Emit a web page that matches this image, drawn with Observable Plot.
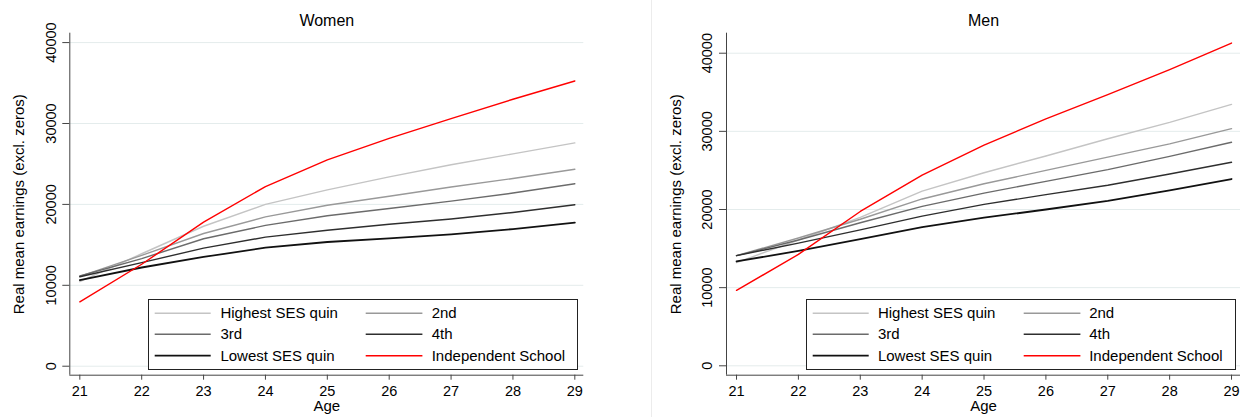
<!DOCTYPE html>
<html>
<head>
<meta charset="utf-8">
<script src="https://cdn.jsdelivr.net/npm/d3@7"></script>
<script src="https://cdn.jsdelivr.net/npm/@observablehq/plot@0.6"></script>
<style>
  html, body { margin: 0; padding: 0; background: #fff; }
  #wrap { position: relative; width: 1242px; height: 417px; background: #fff; overflow: hidden;
          font-family: "Liberation Sans", Arial, sans-serif; color: #000; }
  .panel { position: absolute; top: 0; }
  .sep { position: absolute; left: 651px; top: 0; width: 1px; height: 417px; background: #ececec; }
  .legend { position: absolute; top: 299px; height: 69px; width: 428px; border: 1px solid #222; background: #fff; box-sizing: content-box; }
  .legend .item { position: absolute; font-size: 15px; line-height: 15px; white-space: nowrap; }
  .legend svg { position: absolute; overflow: visible; }
</style>
</head>
<body>
<div id="wrap"></div>
<script>
// ---------- data ----------
const ages = [21, 22, 23, 24, 25, 26, 27, 28, 29];
const seriesNames = ["Highest SES quin", "2nd", "3rd", "4th", "Lowest SES quin", "Independent School"];
const seriesColors = ["#c4c4c4", "#999999", "#6b6b6b", "#2e2e2e", "#111111", "#ff0000"];
const seriesWidths = [1.4, 1.4, 1.4, 1.4, 1.8, 1.4];

const womenHighest = [10450, 13900, 17300, 20000, 21800, 23400, 24900, 26250, 27600];
const women2nd     = [11100, 13700, 16400, 18450, 19900, 21000, 22150, 23200, 24350];
const women3rd     = [11150, 13300, 15750, 17400, 18600, 19500, 20400, 21400, 22550];
const women4th     = [11050, 12800, 14600, 15950, 16800, 17550, 18200, 19000, 19950];
const womenLowest  = [10650, 12200, 13500, 14650, 15350, 15800, 16300, 16950, 17750];
const womenIndep   = [7950, 12600, 17800, 22200, 25500, 28150, 30600, 33000, 35250];

const menHighest = [13200, 16100, 19000, 22350, 24700, 26850, 29050, 31150, 33450];
const men2nd     = [14100, 16350, 18750, 21350, 23300, 25000, 26700, 28400, 30350];
const men3rd     = [14100, 16100, 18300, 20400, 22100, 23600, 25100, 26800, 28600];
const men4th     = [14100, 15700, 17400, 19150, 20650, 21900, 23100, 24550, 26050];
const menLowest  = [13350, 14700, 16200, 17750, 18950, 20000, 21100, 22450, 23900];
const menIndep   = [9650, 14250, 19750, 24400, 28250, 31600, 34700, 37900, 41300];

const yTicks = [0, 10000, 20000, 30000, 40000];
const xTicks = ages;
const yLabel = "Real mean earnings (excl. zeros)";
const xLabel = "Age";

// ---------- build ----------
const FONT = "'Liberation Sans', Arial, sans-serif";
const GRID = "#e4ecec";
const AXIS = "#444";

function toRows(seriesList) {
  const rows = [];
  seriesList.forEach((vals, s) => vals.forEach((v, i) => rows.push({series: seriesNames[s], age: ages[i], value: v})));
  return rows;
}

function panel({title, series, width, marginLeft, marginRight, yDomain}) {
  const rows = toRows(series);
  const xDomain = [20.838, 29.145];
  const lines = seriesNames.map((name, s) =>
    Plot.line(rows.filter(d => d.series === name), {
      x: "age", y: "value", stroke: seriesColors[s], strokeWidth: seriesWidths[s], strokeLinejoin: "round"
    }));
  return Plot.plot({
    width, height: 417,
    marginLeft, marginRight, marginTop: 32.7, marginBottom: 42.3,
    x: {domain: xDomain},
    y: {domain: yDomain},
    style: {fontFamily: FONT, fontSize: "14.5px", color: "#000", background: "transparent", overflow: "visible"},
    marks: [
      Plot.gridY(yTicks, {stroke: GRID, strokeOpacity: 1, strokeWidth: 1}),
      Plot.ruleX([xDomain[0]], {stroke: AXIS, strokeWidth: 1}),
      Plot.ruleY([yDomain[0]], {stroke: AXIS, strokeWidth: 1}),
      Plot.axisY(yTicks, {tickRotate: -90, tickSize: 7, tickPadding: 7.3, tickFormat: d => String(d), label: null, stroke: AXIS, fontSize: 14.5}),
      Plot.axisX(xTicks, {tickSize: 5, tickPadding: 5.3, tickFormat: d => String(d), label: null, stroke: AXIS, fontSize: 14.5}),
      ...lines,
      Plot.text([title], {text: d => d, frameAnchor: "top", dy: -12.8, fontSize: 16, lineAnchor: "middle", textAnchor: "middle"}),
      Plot.text([xLabel], {text: d => d, frameAnchor: "bottom", dy: 31.4, fontSize: 15, lineAnchor: "middle", textAnchor: "middle"}),
      Plot.text([yLabel], {text: d => d, frameAnchor: "left", dx: -50.8, rotate: -90, fontSize: 15, lineAnchor: "middle", textAnchor: "middle"})
    ]
  });
}

function legend(left) {
  const box = document.createElement("div");
  box.className = "legend";
  box.style.left = left + "px";
  const lineX = [[6.7, 62.7], [217.7, 274.4]];
  const textX = [72.4, 283.7];
  const rowY = [14.3, 35.3, 56.7];
  seriesNames.forEach((name, s) => {
    const col = s % 2, row = Math.floor(s / 2);
    const svg = document.createElementNS("http://www.w3.org/2000/svg", "svg");
    svg.setAttribute("width", 1); svg.setAttribute("height", 1);
    svg.style.left = "0px"; svg.style.top = "0px";
    const ln = document.createElementNS("http://www.w3.org/2000/svg", "line");
    ln.setAttribute("x1", lineX[col][0] - 1); ln.setAttribute("x2", lineX[col][1] - 1);
    ln.setAttribute("y1", rowY[row] - 1); ln.setAttribute("y2", rowY[row] - 1);
    ln.setAttribute("stroke", seriesColors[s]);
    ln.setAttribute("stroke-width", seriesWidths[s]);
    svg.appendChild(ln);
    box.appendChild(svg);
    const t = document.createElement("div");
    t.className = "item";
    t.textContent = name;
    t.style.left = (textX[col] - 1) + "px";
    t.style.top = (rowY[row] - 1 - 8) + "px";
    box.appendChild(t);
  });
  return box;
}

const wrap = document.getElementById("wrap");
const sep = document.createElement("div"); sep.className = "sep"; wrap.appendChild(sep);

const left = panel({
  title: "Women",
  series: [womenHighest, women2nd, women3rd, women4th, womenLowest, womenIndep],
  width: 620, marginLeft: 69.3, marginRight: 36.7, yDomain: [-1112, 41160]
});
left.classList.add("panel"); left.style.left = "0px";
wrap.appendChild(left);

const right = panel({
  title: "Men",
  series: [menHighest, men2nd, men3rd, men4th, menLowest, menIndep],
  width: 622, marginLeft: 106, marginRight: 2, yDomain: [-1203, 42560]
});
right.classList.add("panel"); right.style.left = "620px";
wrap.appendChild(right);

wrap.appendChild(legend(148));
wrap.appendChild(legend(805.5));
</script>
</body>
</html>
